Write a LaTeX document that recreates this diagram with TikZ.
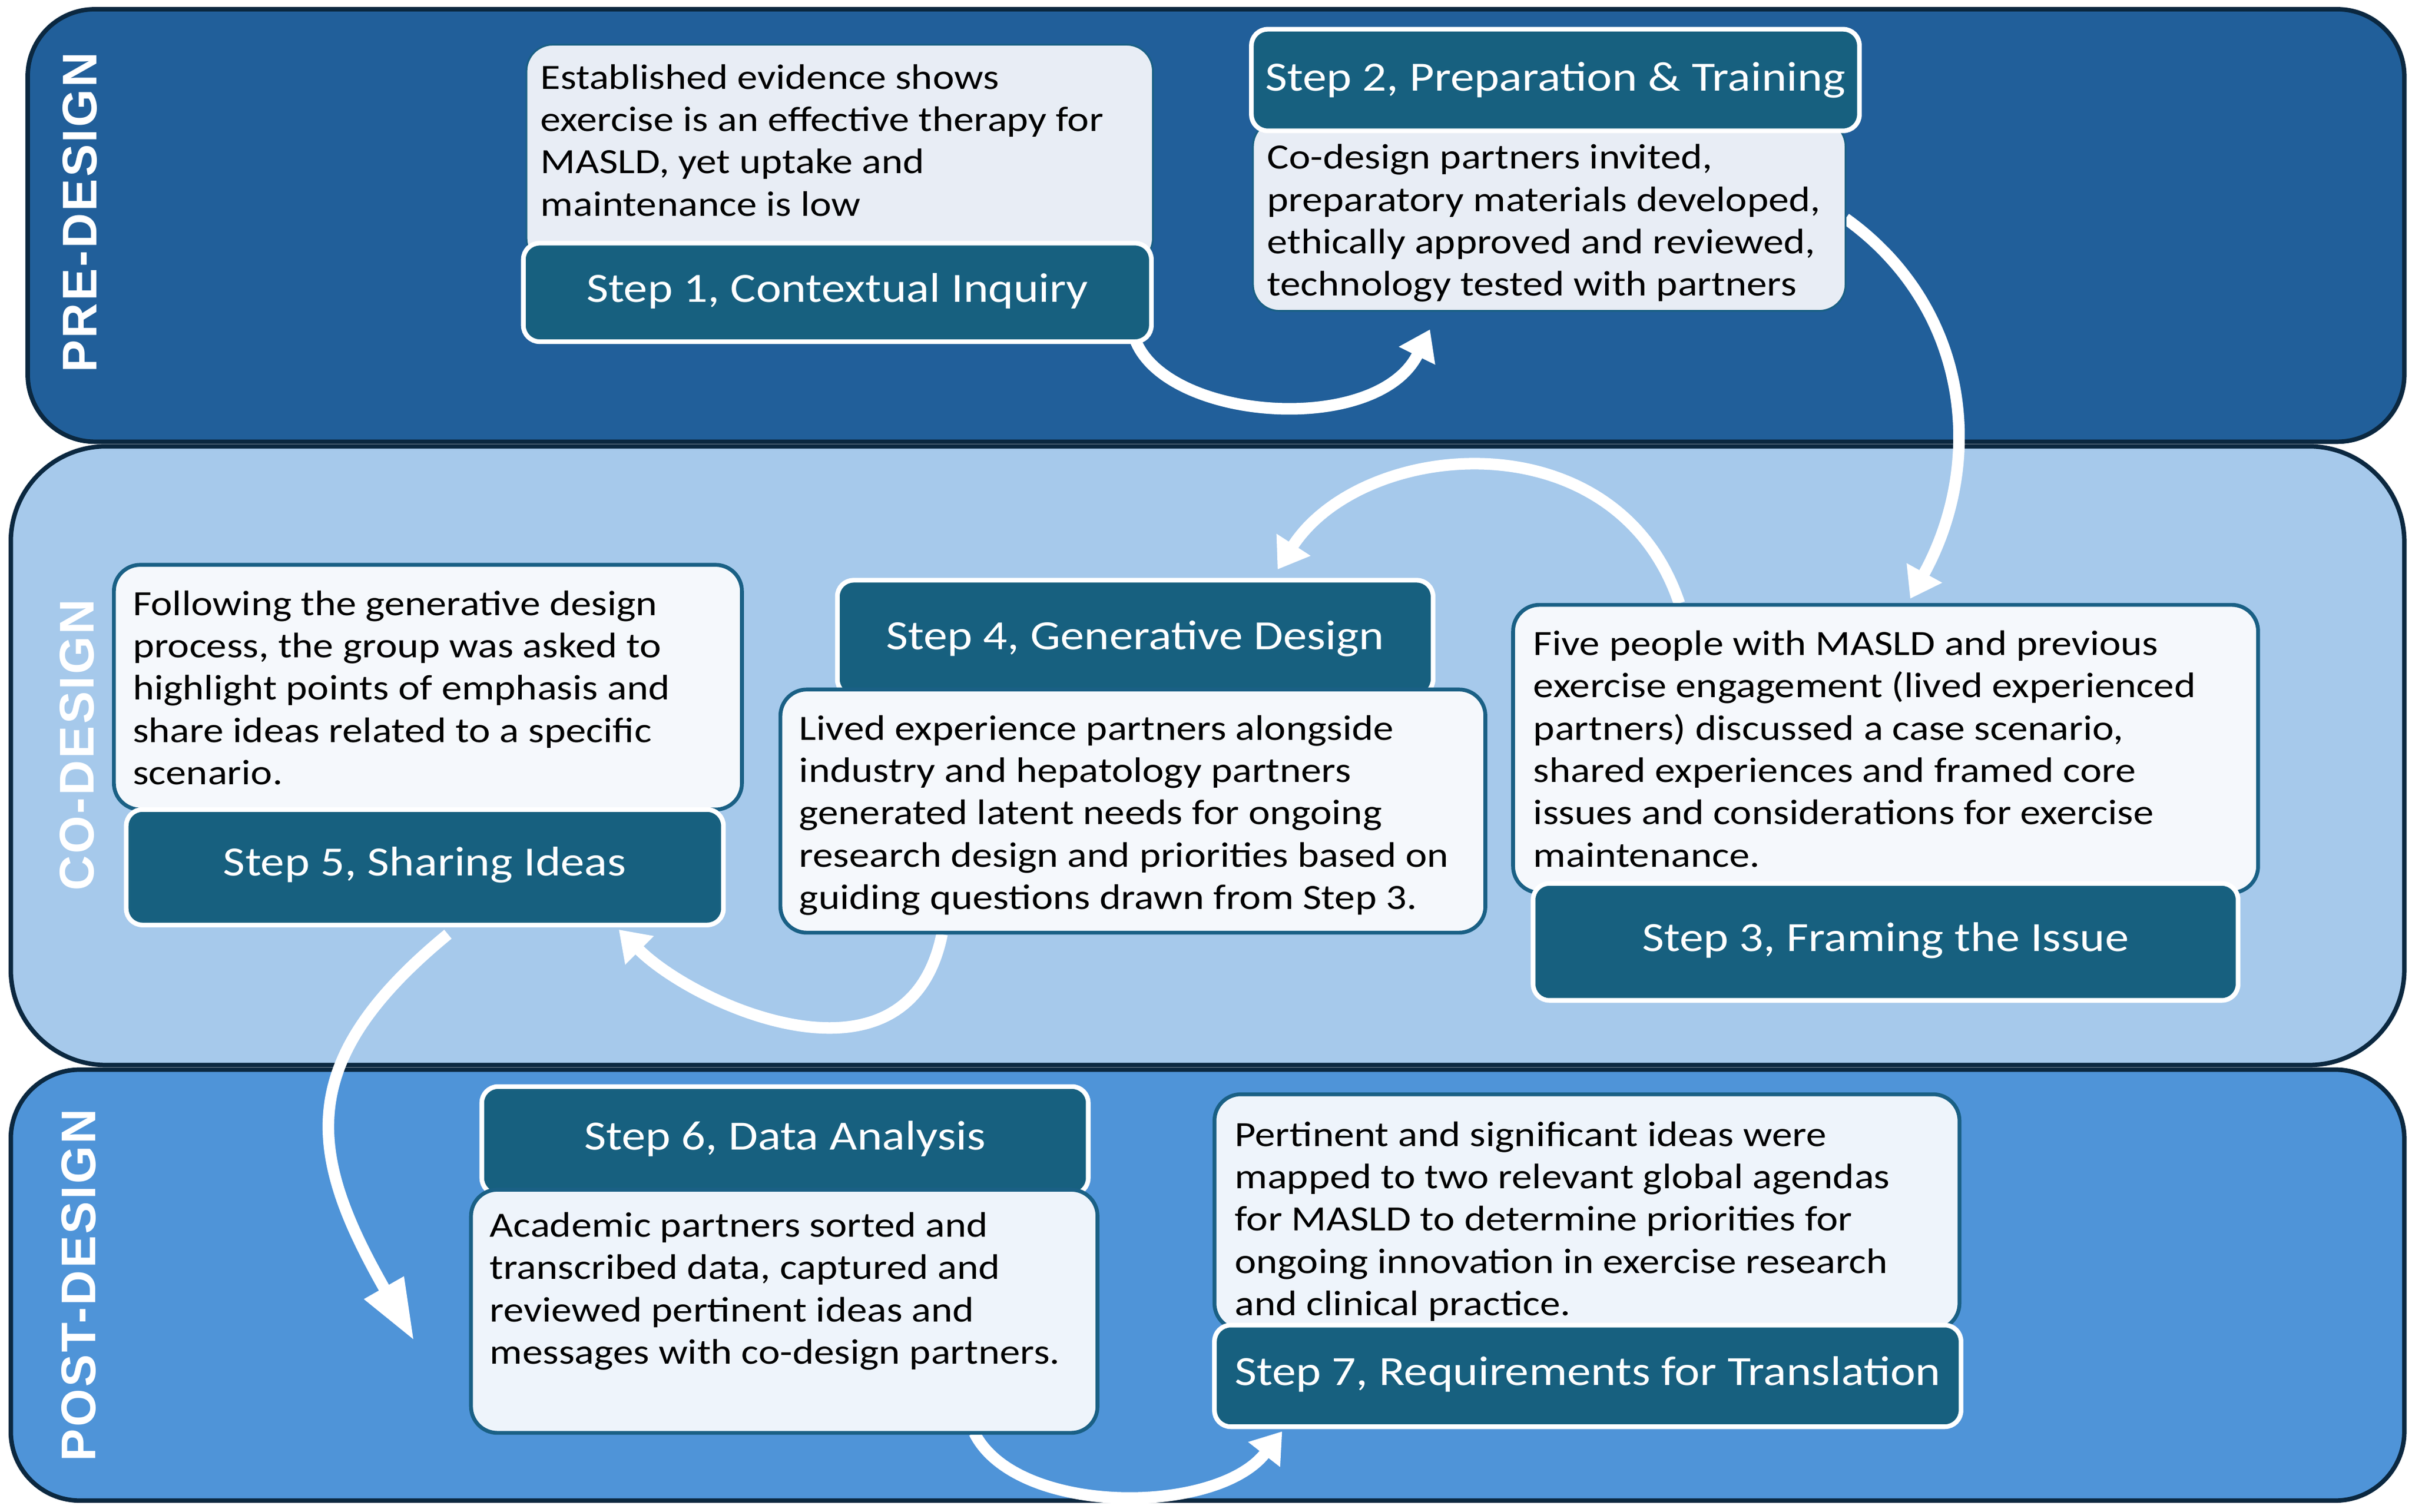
\documentclass[tikz,border=0pt]{standalone}
\usepackage{fontspec}
\setmainfont[FakeStretch=1.15]{Carlito}
\newfontfamily\bandfont[LetterSpace=4]{Liberation Sans}
\usetikzlibrary{arrows.meta,fit}
\def\pu{0.75867pt}
\definecolor{preband}{HTML}{215F9A}
\definecolor{coband}{HTML}{A6C9EB}
\definecolor{postband}{HTML}{4F94D8}
\definecolor{bandline}{HTML}{0B2840}
\definecolor{darkteal}{HTML}{17607F}
\definecolor{boxline}{HTML}{1A6085}
\definecolor{lightpre}{HTML}{E8EDF5}
\definecolor{lightco}{HTML}{F5F8FC}
\definecolor{lightpost}{HTML}{EEF4FB}
\newcommand\bodysize{\fontsize{17.5}{20.86}\selectfont}
\newcommand\titlesize{\fontsize{20.5}{24}\selectfont}
\tikzset{
  band/.style={draw=bandline, line width=2.2pt},
  bandlabel/.style={rotate=90, text=white, inner sep=0pt, font=\bandfont\bfseries\fontsize{24}{28}\selectfont},
  lightbox/.style={draw=boxline, line width=1.9pt, rounded corners=13pt, inner sep=0pt},
  lightthin/.style={draw=boxline, line width=0.9pt, rounded corners=13pt, inner sep=0pt},
  darkbox/.style={fill=darkteal, draw=white, line width=2.3pt, rounded corners=8pt, inner sep=0pt},
  titletext/.style={text=white, font=\titlesize, inner sep=0pt},
  bodytext/.style={anchor=north west, inner sep=0pt, align=left, font=\bodysize, text=black},
  flow/.style={draw=white, line width=5.7pt, -{Triangle[length=14.5pt,width=19pt]}},
  longflow/.style={draw=white, line width=5.7pt, -{Triangle[length=30pt,width=21pt]}}
}
\begin{document}
\begin{tikzpicture}[x=\pu, y=-\pu]
\useasboundingbox (0,0) rectangle (1567,982.4);
% bands
\filldraw[band, fill=preband, rounded corners=33pt] (18,6) rectangle (1562,287);
\filldraw[band, fill=coband, rounded corners=47pt] (7,290) rectangle (1562,692);
\filldraw[band, fill=postband, rounded corners=34pt] (7,695) rectangle (1562,975);
\node[bandlabel] (lpre) at (52,138) {PRE-DESIGN};
\node[bandlabel] (lco) at (50,484) {CO-DESIGN};
\node[bandlabel] (lpost) at (51,835) {POST-DESIGN};
% arrow end points
\coordinate (a12s) at (738,222);
\coordinate (a12e) at (929,214);
\coordinate (a23s) at (1199,142);
\coordinate (a23e) at (1241,389);
\coordinate (a34s) at (1091,392);
\coordinate (a34e) at (830,370);
\coordinate (a45s) at (612,607);
\coordinate (a45e) at (402,604);
\coordinate (a56s) at (291,607);
\coordinate (a56e) at (269,871);
\coordinate (a67s) at (633,931);
\coordinate (a67e) at (833,930);
% arrows
\draw[flow] (a12s) .. controls (760,274) and (895,283) .. (a12e);
\draw[flow] (a23s) .. controls (1280,200) and (1290,300) .. (a23e);
\draw[flow] (a34s) .. controls (1050,270) and (885,285) .. (a34e);
\draw[flow] (a45s) .. controls (590,715) and (452,654) .. (a45e);
\draw[longflow] (a56s) .. controls (190,690) and (200,750) .. (a56e);
\draw[flow] (a67s) .. controls (660,985) and (790,985) .. (a67e);
% Step 1
\node[lightthin, fill=lightpre, fit={(342,29)(749,172)}] (l1) {};
\node[darkbox, fit={(340,158)(748,222)}] (d1) {};
\node[titletext] (h1) at (544,189) {Step 1, Contextual Inquiry};
\node[bodytext] (t1) at (351,41.5) {Established evidence shows\\exercise is an effective therapy for\\MASLD, yet uptake and\\maintenance is low};
% Step 2
\node[lightthin, fill=lightpre, fit={(814,78)(1199,202)}] (l2) {};
\node[darkbox, fit={(813,19)(1208,85)}] (d2) {};
\node[titletext] (h2) at (1010.5,52) {Step 2, Preparation \& Training};
\node[bodytext] (t2) at (823,93.5) {Co-design partners invited,\\preparatory materials developed,\\ethically approved and reviewed,\\technology tested with partners};
% Step 3
\node[lightbox, fill=lightco, fit={(983,393)(1467,580)}] (l3) {};
\node[darkbox, fit={(996,574)(1454,650)}] (d3) {};
\node[titletext] (h3) at (1225,611) {Step 3, Framing the Issue};
\node[bodytext] (t3) at (996,409.5) {Five people with MASLD and previous\\exercise engagement (lived experienced\\partners) discussed a case scenario,\\shared experiences and framed core\\issues and considerations for exercise\\maintenance.};
% Step 4
\node[darkbox, fit={(544,377)(931,452)}] (d4) {};
\node[titletext] (h4) at (737.5,415) {Step 4, Generative Design};
\node[lightbox, fill=lightco, fit={(507,448)(965,606)}] (l4) {};
\node[bodytext] (t4) at (519,464.5) {Lived experience partners alongside\\industry and hepatology partners\\generated latent needs for ongoing\\research design and priorities based on\\guiding questions drawn from Step 3.};
% Step 5
\node[lightbox, fill=lightco, fit={(74,367)(482,526)}] (l5) {};
\node[darkbox, fit={(82,526)(470,601)}] (d5) {};
\node[titletext] (h5) at (276,562) {Step 5, Sharing Ideas};
\node[bodytext] (t5) at (86,383.5) {Following the generative design\\process, the group was asked to\\highlight points of emphasis and\\share ideas related to a specific\\scenario.};
% Step 6
\node[darkbox, fit={(313,706)(707,776)}] (d6) {};
\node[titletext] (h6) at (510,740) {Step 6, Data Analysis};
\node[lightbox, fill=lightpost, fit={(306,773)(713,931)}] (l6) {};
\node[bodytext] (t6) at (318,787.5) {Academic partners sorted and\\transcribed data, captured and\\reviewed pertinent ideas and\\messages with co-design partners.};
% Step 7
\node[lightbox, fill=lightpost, fit={(789,711)(1273,864)}] (l7) {};
\node[darkbox, fit={(789,861)(1274,927)}] (d7) {};
\node[titletext] (h7) at (1031.5,893) {Step 7, Requirements for Translation};
\node[bodytext] (t7) at (802,728.5) {Pertinent and significant ideas were\\mapped to two relevant global agendas\\for MASLD to determine priorities for\\ongoing innovation in exercise research\\and clinical practice.};
\end{tikzpicture}
\end{document}
